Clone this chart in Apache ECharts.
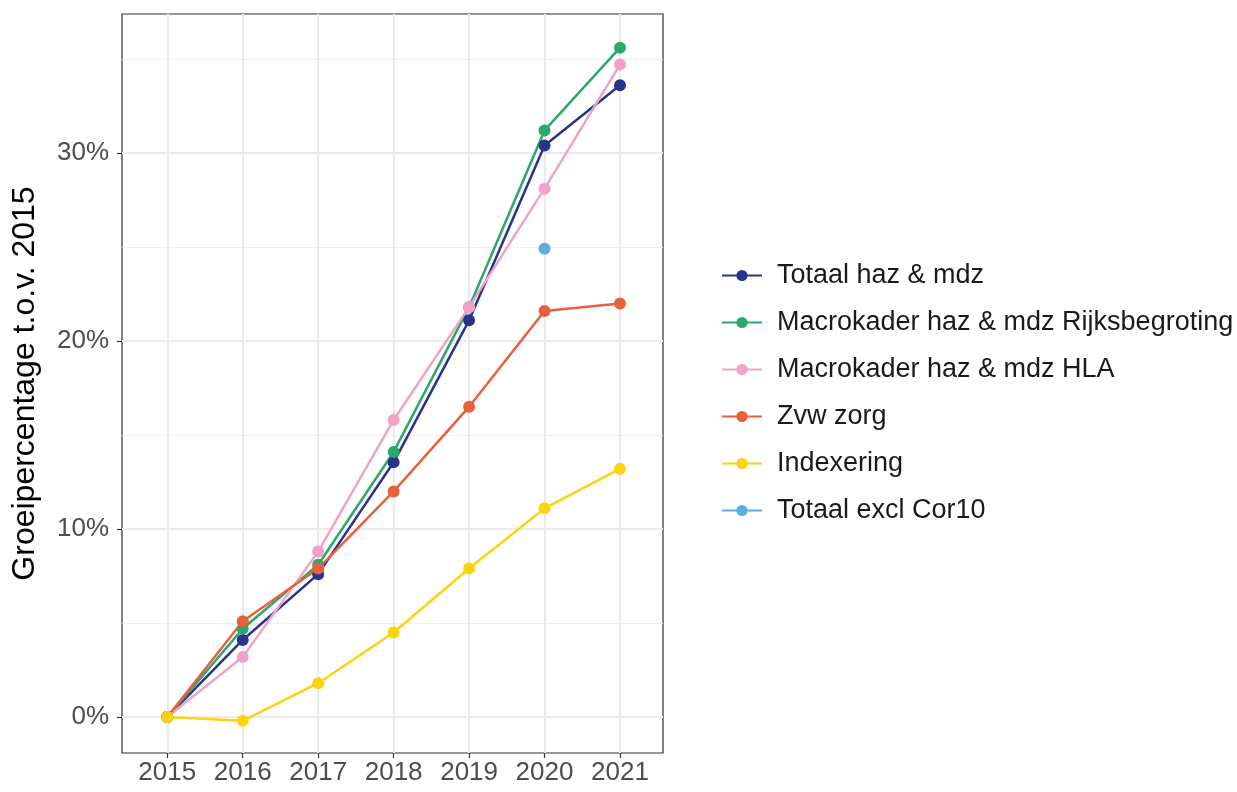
<!DOCTYPE html>
<html>
<head>
<meta charset="utf-8">
<script src="https://cdn.jsdelivr.net/npm/echarts@6/dist/echarts.min.js"></script>
<style>
  html, body { margin: 0; padding: 0; background: #fff; }
  #chart { width: 1237px; height: 792px; }
</style>
</head>
<body>
<div id="chart"></div>
<script>
  // years on the x axis
  const years = [2015, 2016, 2017, 2018, 2019, 2020, 2021];
  // growth in % compared to 2015
  const totaal = [0, 4.1, 7.6, 13.55, 21.1, 30.4, 33.6];
  const macroRijks = [0, 4.7, 8.1, 14.1, 21.8, 31.2, 35.6];
  const macroHla = [0, 3.2, 8.8, 15.8, 21.8, 28.1, 34.7];
  const zvwZorg = [0, 5.1, 7.9, 12.0, 16.5, 21.6, 22.0];
  const indexering = [0, -0.2, 1.8, 4.5, 7.9, 11.1, 13.2];
  const exclCor10 = [null, null, null, null, null, 24.9, null];
  const yMajor = [0, 10, 20, 30];
  const yMinor = [5, 15, 25, 35];

  const seriesDefs = [
    { name: 'Totaal haz & mdz', data: totaal, color: '#28348c' },
    { name: 'Macrokader haz & mdz Rijksbegroting', data: macroRijks, color: '#2ca86c' },
    { name: 'Macrokader haz & mdz HLA', data: macroHla, color: '#f2a2c8' },
    { name: 'Zvw zorg', data: zvwZorg, color: '#e9603d' },
    { name: 'Indexering', data: indexering, color: '#fdd20e' },
    { name: 'Totaal excl Cor10', data: exclCor10, color: '#5aaee0' },
  ];

  const chart = echarts.init(document.getElementById('chart'));
  const font = 'Liberation Sans, Arial, sans-serif';

  chart.setOption({
    animation: false,
    grid: {
      left: 122,
      right: 574,
      top: 14,
      bottom: 39,
      show: true,
      borderColor: '#333333',
      borderWidth: 1.2,
      backgroundColor: 'transparent',
    },
    legend: {
      orient: 'vertical',
      left: 716,
      top: 257,
      itemWidth: 40,
      itemHeight: 14,
      itemGap: 20,
      textStyle: { fontFamily: font, fontSize: 27, color: '#1a1a1a', padding: [0, 0, 0, 10] },
      data: seriesDefs.map((s) => s.name),
    },
    xAxis: {
      type: 'value',
      min: 2014.4,
      max: 2021.57,
      axisLine: { show: false, onZero: false },
      axisTick: {
        show: true,
        length: 5,
        customValues: years,
        lineStyle: { color: '#333333', width: 1.2 },
      },
      axisLabel: {
        customValues: years,
        fontFamily: font,
        fontSize: 26,
        color: '#4d4d4d',
        margin: 7,
        formatter: (v) => String(v),
      },
      splitLine: { show: true, lineStyle: { color: '#ebebeb', width: 2 } },
    },
    yAxis: [
      {
        type: 'value',
        min: -1.91,
        max: 37.39,
        name: 'Groeipercentage t.o.v. 2015',
        nameLocation: 'middle',
        nameGap: 81,
        nameTextStyle: { fontFamily: font, fontSize: 32, color: '#000000' },
        axisLine: { show: false, onZero: false },
        axisTick: {
          show: true,
          length: 5,
          customValues: yMajor,
          lineStyle: { color: '#333333', width: 1.2 },
        },
        axisLabel: {
          customValues: yMajor,
          fontFamily: font,
          fontSize: 26,
          color: '#4d4d4d',
          margin: 13,
          formatter: '{value}%',
        },
        splitLine: { show: true, lineStyle: { color: '#ebebeb', width: 2 } },
      },
      {
        type: 'value',
        min: -1.91,
        max: 37.39,
        position: 'left',
        axisLine: { show: false, onZero: false },
        axisTick: { show: false, customValues: yMinor },
        axisLabel: { show: false, customValues: yMinor },
        splitLine: { show: true, lineStyle: { color: '#f0f0f0', width: 1.2 } },
      },
    ],
    series: seriesDefs.map((s) => ({
      name: s.name,
      type: 'line',
      yAxisIndex: 0,
      data: years.map((y, i) => [y, s.data[i]]),
      color: s.color,
      symbol: 'circle',
      symbolSize: 12,
      showSymbol: true,
      lineStyle: { width: 2.5 },
      connectNulls: false,
    })),
  });
</script>
</body>
</html>
